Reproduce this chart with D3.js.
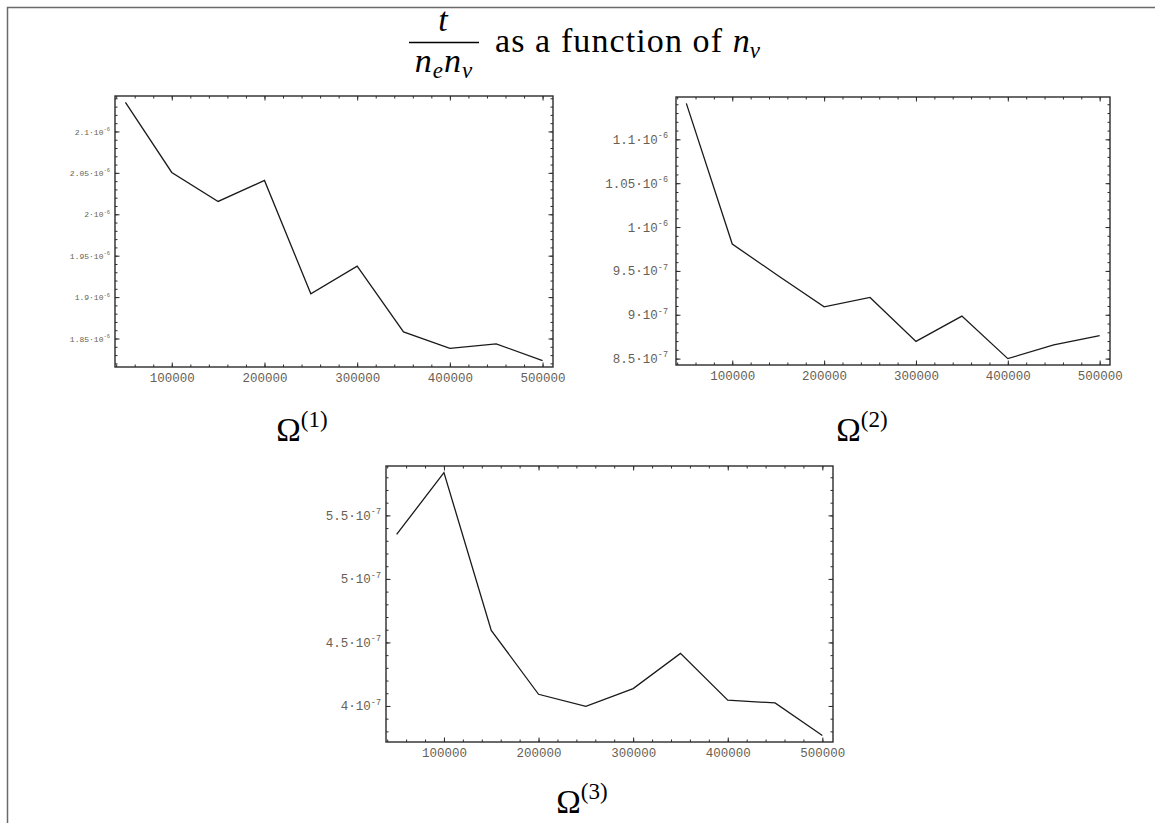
<!DOCTYPE html>
<html lang="en">
<head>
<meta charset="UTF-8">
<title>t / (ne nv) as a function of nv</title>
<style>
    body { margin: 0; background: #fff; }
    svg { display: block; }
    .frame { fill: none; stroke: #2b2b2b; stroke-width: 1.4; }
    .axis line { stroke: #2b2b2b; stroke-width: 1; }
    .axis path { display: none; }
    .series { fill: none; stroke: #1a1a1a; stroke-width: 1.3; }
    .axis text { font-family: "Liberation Mono", monospace; fill: #675f55; }
    .serif { font-family: "Liberation Serif", serif; fill: #000; }
</style>
</head>
<body>
<svg id="chart" width="1155" height="823"></svg>
<script src="https://d3js.org/d3.v7.min.js"></script>
<script>
// data
var nv = [50000, 100000, 150000, 200000, 250000, 300000, 350000, 400000, 450000, 500000];
var omega1 = [2.135e-6, 2.0505e-6, 2.0155e-6, 2.0408e-6, 1.904e-6, 1.9374e-6, 1.858e-6, 1.838e-6, 1.8435e-6, 1.8234e-6];
var omega2 = [1.141e-6, 0.9806e-6, 0.9445e-6, 0.9091e-6, 0.9197e-6, 0.8696e-6, 0.8985e-6, 0.85e-6, 0.8656e-6, 0.8763e-6];
var omega3 = [5.35e-7, 5.837e-7, 4.595e-7, 4.092e-7, 3.997e-7, 4.137e-7, 4.414e-7, 4.045e-7, 4.024e-7, 3.768e-7];

var xTicks = [100000, 200000, 300000, 400000, 500000];
var yTicks1 = [2.1e-6, 2.05e-6, 2e-6, 1.95e-6, 1.9e-6, 1.85e-6];
var yLabels1 = ["2.1·10^-6", "2.05·10^-6", "2·10^-6", "1.95·10^-6", "1.9·10^-6", "1.85·10^-6"];
var yTicks2 = [1.1e-6, 1.05e-6, 1e-6, 9.5e-7, 9e-7, 8.5e-7];
var yLabels2 = ["1.1·10^-6", "1.05·10^-6", "1·10^-6", "9.5·10^-7", "9·10^-7", "8.5·10^-7"];
var yTicks3 = [5.5e-7, 5e-7, 4.5e-7, 4e-7];
var yLabels3 = ["5.5·10^-7", "5·10^-7", "4.5·10^-7", "4·10^-7"];

var svg = d3.select("#chart");

// page frame
svg.append("path")
   .attr("d", "M7.5,823V7.5H1155")
   .attr("fill", "none")
   .attr("stroke", "#6a6a6a")
   .attr("stroke-width", 1.5);

// title: t/(ne nv) as a function of nv
svg.append("text").attr("class", "serif")
   .attr("x", 443).attr("y", 31)
   .attr("text-anchor", "middle")
   .style("font-size", "34px").style("font-style", "italic")
   .text("t");
svg.append("line")
   .attr("x1", 409).attr("x2", 479).attr("y1", 42.5).attr("y2", 42.5)
   .attr("stroke", "#000").attr("stroke-width", 1.5);
var den = svg.append("text").attr("class", "serif")
   .attr("x", 444).attr("y", 72)
   .attr("text-anchor", "middle")
   .style("font-size", "34px").style("font-style", "italic")
   .style("letter-spacing", "1px");
den.append("tspan").text("n");
den.append("tspan").attr("dy", 6).style("font-size", "23px").text("e");
den.append("tspan").attr("dy", -6).text("n");
den.append("tspan").attr("dy", 6).style("font-size", "23px").text("v");

var ttl = svg.append("text").attr("class", "serif")
   .attr("x", 495).attr("y", 52)
   .style("font-size", "34px");
ttl.append("tspan").style("letter-spacing", "1.1px").text("as a function of ");
ttl.append("tspan").style("font-style", "italic").text("n");
ttl.append("tspan").attr("dy", 6).style("font-style", "italic").style("font-size", "23px").text("v");

var panels = [
    { values: omega1, yTicks: yTicks1, yLabels: yLabels1, name: "1",
      left: 115, right: 553, top: 96, bottom: 367, yFont: 8, yGap: 5, labelX: 302, labelY: 441 },
    { values: omega2, yTicks: yTicks2, yLabels: yLabels2, name: "2",
      left: 676, right: 1110, top: 97, bottom: 365, yFont: 12.5, yGap: 8, labelX: 862, labelY: 441 },
    { values: omega3, yTicks: yTicks3, yLabels: yLabels3, name: "3",
      left: 386, right: 833, top: 466, bottom: 742, yFont: 12.5, yGap: 5, labelX: 582, labelY: 813 }
];

function padded(ext) {
    var p = (ext[1] - ext[0]) * 0.025;
    return [ext[0] - p, ext[1] + p];
}

function minorTicks(domain, step) {
    return d3.range(Math.ceil(domain[0] / step), Math.floor(domain[1] / step) + 1)
             .map(k => k * step);
}

panels.forEach(function(p) {
    var x = d3.scaleLinear().domain(padded(d3.extent(nv))).range([p.left, p.right]);
    var y = d3.scaleLinear().domain(padded(d3.extent(p.values))).range([p.bottom, p.top]);
    var g = svg.append("g");

    var xMinor = minorTicks(x.domain(), 20000);
    var yMinor = minorTicks(y.domain(), 1e-8);

    // minor ticks on all four sides, pointing inward
    g.append("g").attr("class", "axis").attr("transform", "translate(0," + p.bottom + ")")
     .call(d3.axisBottom(x).tickValues(xMinor).tickSize(-2.5).tickFormat(""));
    g.append("g").attr("class", "axis").attr("transform", "translate(0," + p.top + ")")
     .call(d3.axisTop(x).tickValues(xMinor).tickSize(-2.5).tickFormat(""));
    g.append("g").attr("class", "axis").attr("transform", "translate(" + p.left + ",0)")
     .call(d3.axisLeft(y).tickValues(yMinor).tickSize(-2.5).tickFormat(""));
    g.append("g").attr("class", "axis").attr("transform", "translate(" + p.right + ",0)")
     .call(d3.axisRight(y).tickValues(yMinor).tickSize(-2.5).tickFormat(""));

    // major ticks
    var xb = g.append("g").attr("class", "axis").attr("transform", "translate(0," + p.bottom + ")")
     .call(d3.axisBottom(x).tickValues(xTicks).tickSize(-4.5).tickPadding(6).tickFormat(d3.format("d")));
    xb.selectAll("text").style("font-size", "12.5px");
    g.append("g").attr("class", "axis").attr("transform", "translate(0," + p.top + ")")
     .call(d3.axisTop(x).tickValues(xTicks).tickSize(-4.5).tickFormat(""));
    var yl = g.append("g").attr("class", "axis").attr("transform", "translate(" + p.left + ",0)")
     .call(d3.axisLeft(y).tickValues(p.yTicks).tickSize(-4.5).tickPadding(p.yGap)
           .tickFormat((d, i) => p.yLabels[i]));
    g.append("g").attr("class", "axis").attr("transform", "translate(" + p.right + ",0)")
     .call(d3.axisRight(y).tickValues(p.yTicks).tickSize(-4.5).tickFormat(""));

    // mantissa·10 with a raised exponent
    yl.selectAll("text").each(function() {
        var t = d3.select(this);
        var parts = t.text().split("^");
        t.text(null).style("font-size", p.yFont + "px");
        t.append("tspan").text(parts[0]);
        t.append("tspan").attr("dy", -p.yFont * 0.45)
         .style("font-size", (p.yFont * 0.68) + "px").text(parts[1]);
    });

    g.append("rect").attr("class", "frame")
     .attr("x", p.left).attr("y", p.top)
     .attr("width", p.right - p.left).attr("height", p.bottom - p.top);

    var line = d3.line().x((d, i) => x(nv[i])).y(d => y(d));
    g.append("path").datum(p.values).attr("class", "series").attr("d", line);

    var lab = g.append("text").attr("class", "serif")
     .attr("x", p.labelX).attr("y", p.labelY)
     .attr("text-anchor", "middle")
     .style("font-size", "33px");
    lab.append("tspan").text("Ω");
    lab.append("tspan").attr("dy", -14).style("font-size", "23px").text("(" + p.name + ")");
});
</script>
</body>
</html>
